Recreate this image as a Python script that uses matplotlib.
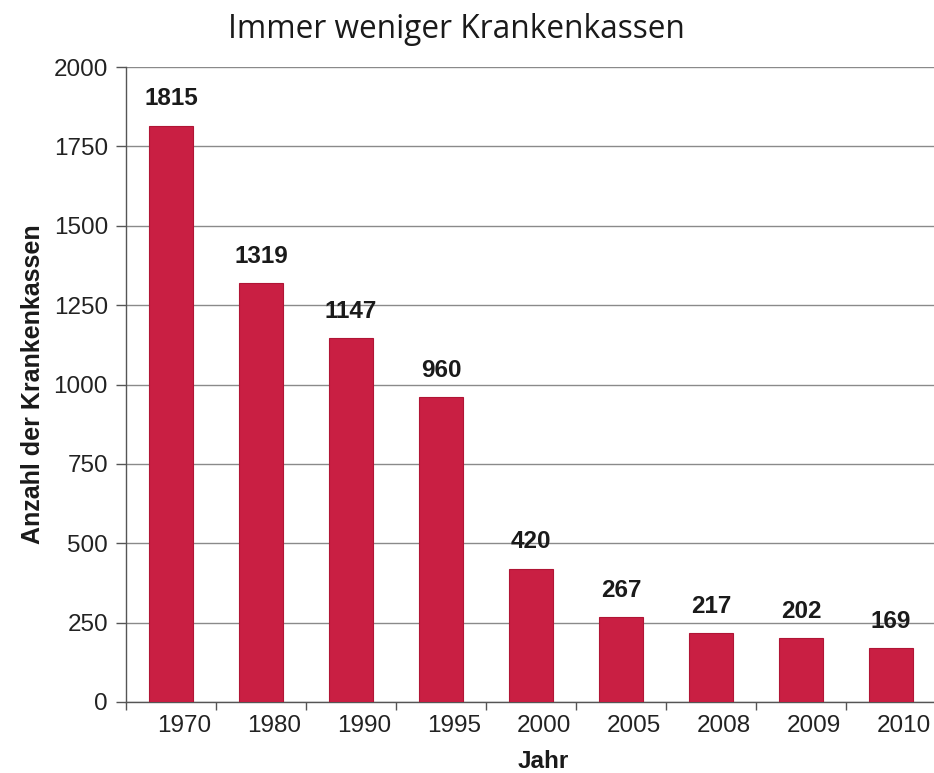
import matplotlib.pyplot as plt
import matplotlib.transforms as mtransforms
import numpy as np

years = ['1970', '1980', '1990', '1995', '2000', '2005', '2008', '2009', '2010']
kassen = [1815, 1319, 1147, 960, 420, 267, 217, 202, 169]
y_ticks = [0, 250, 500, 750, 1000, 1250, 1500, 1750, 2000]

bar_color = '#c91f43'

fig = plt.figure(figsize=(9.34, 7.73), dpi=100)
ax = fig.add_axes([126 / 934, 71 / 773, 810 / 934, 635 / 773])

x = np.arange(len(years))
ax.bar(x, kassen, width=0.49, color=bar_color, edgecolor='#b01535', linewidth=0.8, zorder=3)

for xi, v in zip(x, kassen):
    ax.annotate(str(v), (xi, v), xytext=(0, 11), textcoords='offset points',
                ha='center', va='bottom', fontsize=17.5, fontweight='bold',
                family='Liberation Sans', color='#1a1a1a')

ax.set_xlim(-0.5, len(years) - 0.5)
ax.set_ylim(0, 2000)
ax.set_yticks(y_ticks)
ax.set_yticklabels([str(t) for t in y_ticks], family='Liberation Sans', fontsize=17.5, color='#222222')
ax.yaxis.grid(True, color='#8a8a8a', linewidth=1.0, zorder=0)
ax.set_axisbelow(True)

ax.set_xticks(x)
ax.set_xticklabels(years, family='Liberation Sans', fontsize=17.5, color='#222222')
ax.set_xticks(np.arange(-0.5, len(years), 1.0), minor=True)
ax.tick_params(axis='x', which='major', length=0, pad=9)
ax.tick_params(axis='x', which='minor', length=6, color='#555555', width=1)
ax.tick_params(axis='y', length=7, color='#555555', width=1, pad=6)

# shift x labels slightly right as in the original
offset = mtransforms.ScaledTranslation(13 / 100, 0, fig.dpi_scale_trans)
for lbl in ax.get_xticklabels():
    lbl.set_transform(lbl.get_transform() + offset)

for side in ['top', 'right']:
    ax.spines[side].set_visible(False)
for side in ['left', 'bottom']:
    ax.spines[side].set_color('#555555')
    ax.spines[side].set_linewidth(1.0)

ax.set_ylabel('Anzahl der Krankenkassen', family='Liberation Sans', fontsize=18,
              fontweight='bold', color='#1a1a1a', labelpad=6)
ax.set_xlabel('Jahr', family='Liberation Sans', fontsize=17.5, fontweight='bold',
              color='#1a1a1a', labelpad=8)
ax.xaxis.set_label_coords(0.515, -0.075)

fig.text(456 / 934, 1 - 30 / 773, 'Immer weniger Krankenkassen', ha='center', va='center',
         family='Open Sans', fontsize=22.8, color='#1a1a1a')

fig.savefig('out.png', dpi=100)
